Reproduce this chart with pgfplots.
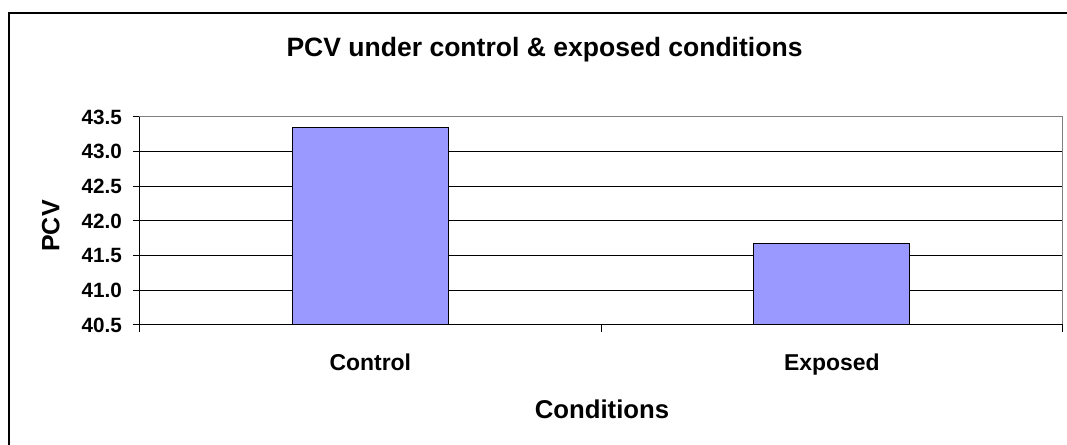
\documentclass[border=0pt]{standalone}
\usepackage{fontspec}
\setmainfont{Liberation Sans}
\usepackage{pgfplots}
\pgfplotsset{compat=1.18}
\definecolor{barblue}{HTML}{9999FF}
\definecolor{framegray}{HTML}{808080}

\begin{document}
\begin{tikzpicture}
\begin{axis}[
  scale only axis,
  width=692.4pt, height=156pt,
  ybar, bar width=0.338,
  xmin=-0.5, xmax=1.5,
  ymin=40.5, ymax=43.5,
  ytick={40.5,41.0,41.5,42.0,42.5,43.0,43.5},
  xtick={-0.5,0.5,1.5}, xticklabels={},
  extra x ticks={0,1},
  extra x tick labels={Control,Exposed},
  extra x tick style={major tick length=0pt},
  xtick pos=bottom, ytick pos=left,
  tick align=outside,
  major tick length=5pt,
  tick style={black, line width=0.75pt},
  axis line style={draw=none},
  ymajorgrids, grid style={black, line width=0.75pt},
  clip mode=individual,
  /pgf/number format/.cd, fixed, fixed zerofill, precision=1, assume math mode=true,
  /pgfplots/.cd,
  yticklabel style={font=\fontsize{15.5}{15.5}\selectfont\bfseries, inner sep=0pt, xshift=-8pt},
  xticklabel style={font=\fontsize{17.2}{17.2}\selectfont\bfseries, anchor=base, inner sep=0pt, yshift=-34pt},
]
\addplot[fill=barblue, draw=black, line width=0.75pt] coordinates {(0,43.35) (1,41.68)};
\draw[framegray, line width=0.75pt] (rel axis cs:0,1) -- (rel axis cs:1,1) -- (rel axis cs:1,0);
\draw[black, line width=0.75pt] (rel axis cs:0,1) -- (rel axis cs:0,0) -- (rel axis cs:1,0);
\coordinate (O) at (rel axis cs:0,0);
\end{axis}
\begin{scope}[shift={(O)}, xshift=-104.625pt, yshift=243.75pt, x=0.75pt, y=-0.75pt]
  \draw[black, line width=1.5pt] (9,450) -- (9,13) -- (1070,13);
  \node[anchor=base, inner sep=0pt, font=\fontsize{19.9}{19.9}\selectfont\bfseries]
    at (544.5,57) {PCV under control \& exposed conditions};
  \node[anchor=base, inner sep=0pt, font=\fontsize{19.3}{19.3}\selectfont\bfseries]
    at (602,418.3) {Conditions};
  \node[anchor=base, rotate=90, inner sep=0pt, font=\fontsize{18.75}{18.75}\selectfont\bfseries]
    at (59.3,226) {PCV};
  \pgfresetboundingbox
  \path[use as bounding box] (0,0) rectangle (1067,445);
\end{scope}
\end{tikzpicture}
\end{document}
